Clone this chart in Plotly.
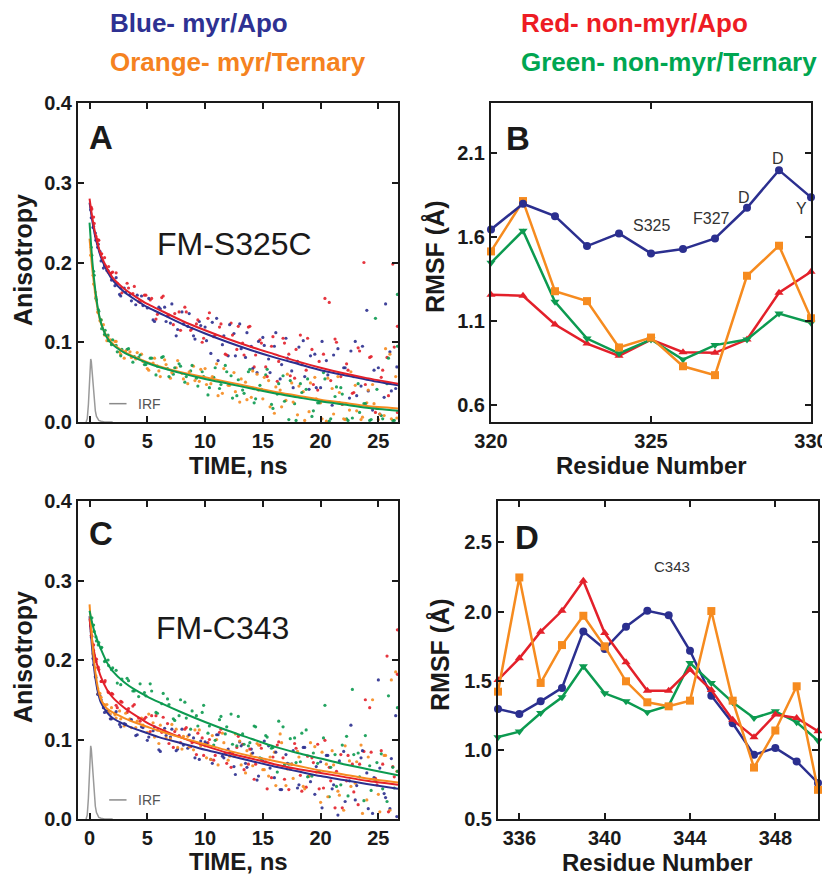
import plotly.graph_objects as go

# ---------------- data ----------------
# scatter times (ns)
t_set1 = [0.1, 0.3, 0.5, 0.7, 0.9, 1.2, 1.5, 1.8, 2.2, 2.6, 3.0, 3.5, 4.0, 4.5, 5.0, 5.5, 6.0, 6.5, 7.0, 7.5,
          8.0, 8.5, 9.0, 9.5, 10.0, 10.5, 11.0, 11.5, 12.0, 12.5, 13.0, 13.5, 14.0, 14.5, 15.0, 15.5, 16.0, 16.5,
          17.0, 17.5, 18.0, 18.5, 19.0, 19.5, 20.0, 20.5, 21.0, 21.5, 22.0, 22.5, 23.0, 23.5, 24.0, 24.5, 25.0,
          25.5, 26.0, 26.5]
t_set2 = [0.2, 0.4, 0.6, 0.8, 1.05, 1.35, 1.65, 2.0, 2.4, 2.8, 3.25, 3.75, 4.25, 4.75, 5.25, 5.75, 6.25, 6.75,
          7.25, 7.75, 8.25, 8.75, 9.25, 9.75, 10.25, 10.75, 11.25, 11.75, 12.25, 12.75, 13.25, 13.75, 14.25, 14.75,
          15.25, 15.75, 16.25, 16.75, 17.25, 17.75, 18.25, 18.75, 19.25, 19.75, 20.25, 20.75, 21.25, 21.75, 22.25,
          22.75, 23.25, 23.75, 24.25, 24.75, 25.25, 25.75, 26.25, 26.65]
t_set3 = [0.15, 0.35, 0.55, 0.75, 1.0, 1.3, 1.6, 1.9, 2.3, 2.7, 3.125, 3.625, 4.125, 4.625, 5.125, 5.625, 6.125,
          6.625, 7.125, 7.625, 8.125, 8.625, 9.125, 9.625, 10.125, 10.625, 11.125, 11.625, 12.125, 12.625, 13.125,
          13.625, 14.125, 14.625, 15.125, 15.625, 16.125, 16.625, 17.125, 17.625, 18.125, 18.625, 19.125, 19.625,
          20.125, 20.625, 21.125, 21.625, 22.125, 22.625, 23.125, 23.625, 24.125, 24.625, 25.125, 25.625, 26.125,
          26.6]
t_set4 = [0.15, 0.35, 0.55, 0.75, 1.0, 1.3, 1.6, 1.9, 2.3, 2.7, 3.375, 3.875, 4.375, 4.875, 5.375, 5.875, 6.375,
          6.875, 7.375, 7.875, 8.375, 8.875, 9.375, 9.875, 10.375, 10.875, 11.375, 11.875, 12.375, 12.875, 13.375,
          13.875, 14.375, 14.875, 15.375, 15.875, 16.375, 16.875, 17.375, 17.875, 18.375, 18.875, 19.375, 19.875,
          20.375, 20.875, 21.375, 21.875, 22.375, 22.875, 23.375, 23.875, 24.375, 24.875, 25.375, 25.875, 26.375,
          26.65]

# Panel A (FM-S325C) anisotropy data
A_blue = [0.266, 0.244, 0.237, 0.219, 0.214, 0.193, 0.190, 0.186, 0.171, 0.160, 0.168, 0.160, 0.147, 0.158, 0.143,
          0.128, 0.144, 0.144, 0.124, 0.108, 0.138, 0.120, 0.108, 0.126, 0.119, 0.086, 0.130, 0.097, 0.083, 0.111,
          0.123, 0.081, 0.095, 0.062, 0.106, 0.079, 0.095, 0.054, 0.105, 0.064, 0.076, 0.102, 0.041, 0.085, 0.043,
          0.077, 0.021, 0.092, 0.068, 0.030, 0.101, 0.045, 0.140, 0.015, 0.068, 0.031, 0.088, 0.042]
A_blue_b = [0.256, 0.245, 0.228, 0.223, 0.202, 0.196, 0.190, 0.178, 0.181, 0.158, 0.163, 0.152, 0.159, 0.146, 0.155,
            0.126, 0.142, 0.126, 0.148, 0.116, 0.123, 0.136, 0.104, 0.121, 0.102, 0.125, 0.077, 0.108, 0.122, 0.083,
            0.092, 0.112, 0.067, 0.101, 0.096, 0.062, 0.112, 0.072, 0.080, 0.043, 0.094, 0.057, 0.083, 0.043, 0.101,
            0.059, 0.084, 0.024, 0.068, 0.089, 0.033, 0.095, 0.039, 0.065, 0.010, 0.148, 0.039, 0.069]
A_red = [0.267, 0.249, 0.230, 0.228, 0.211, 0.196, 0.195, 0.188, 0.174, 0.162, 0.174, 0.161, 0.151, 0.159, 0.153,
         0.129, 0.156, 0.133, 0.122, 0.138, 0.144, 0.115, 0.123, 0.100, 0.130, 0.107, 0.119, 0.085, 0.124, 0.091,
         0.099, 0.119, 0.069, 0.103, 0.069, 0.095, 0.051, 0.105, 0.085, 0.055, 0.109, 0.065, 0.091, 0.040, 0.085,
         0.150, 0.104, 0.057, 0.073, 0.036, 0.093, 0.200, 0.081, 0.012, 0.056, 0.081, 0.198, 0.012]
A_red_b = [0.269, 0.257, 0.233, 0.228, 0.211, 0.206, 0.188, 0.187, 0.187, 0.168, 0.168, 0.170, 0.150, 0.159, 0.155,
           0.135, 0.158, 0.134, 0.136, 0.115, 0.138, 0.117, 0.128, 0.105, 0.137, 0.109, 0.123, 0.084, 0.109, 0.120,
           0.084, 0.120, 0.084, 0.099, 0.057, 0.107, 0.076, 0.099, 0.058, 0.091, 0.072, 0.105, 0.047, 0.076, 0.155,
           0.052, 0.100, 0.022, 0.065, 0.037, 0.089, 0.047, 0.082, 0.017, 0.065, 0.033, 0.094, 0.120]
A_orange = [0.209, 0.184, 0.163, 0.138, 0.127, 0.122, 0.102, 0.103, 0.101, 0.088, 0.080, 0.088, 0.079, 0.085, 0.067,
            0.074, 0.064, 0.078, 0.055, 0.068, 0.061, 0.048, 0.070, 0.051, 0.067, 0.048, 0.073, 0.036, 0.046, 0.062,
            0.025, 0.050, 0.031, 0.060, 0.029, 0.052, 0.011, 0.040, 0.027, 0.049, 0.009, 0.038, 0.013, 0.056, 0.024,
            0.001, 0.042, 0.057, 0.004, 0.015, 0.046, 0.003, 0.024, 0.047, 0.003, 0.008, 0.085, 0.057]
A_orange_b = [0.210, 0.173, 0.157, 0.137, 0.128, 0.109, 0.107, 0.098, 0.101, 0.085, 0.089, 0.081, 0.087, 0.076,
              0.065, 0.080, 0.057, 0.072, 0.062, 0.077, 0.054, 0.063, 0.052, 0.066, 0.047, 0.057, 0.033, 0.067,
              0.046, 0.038, 0.054, 0.028, 0.064, 0.040, 0.056, 0.019, 0.044, 0.019, 0.060, 0.025, 0.045, 0.002,
              0.049, 0.029, 0.004, 0.055, 0.010, 0.037, 0.003, 0.063, 0.014, 0.006, 0.040, 0.023, 0.010, 0.092,
              0.004, 0.005]
A_green = [0.209, 0.184, 0.153, 0.139, 0.117, 0.115, 0.102, 0.103, 0.088, 0.091, 0.091, 0.075, 0.081, 0.072, 0.080,
           0.059, 0.081, 0.067, 0.060, 0.073, 0.050, 0.064, 0.055, 0.063, 0.034, 0.056, 0.042, 0.071, 0.058, 0.033,
           0.040, 0.063, 0.024, 0.046, 0.059, 0.022, 0.035, 0.058, 0.003, 0.023, 0.048, 0.041, 0.007, 0.024, 0.062,
           0.001, 0.032, 0.043, 0.004, 0.005, 0.048, 0.023, 0.002, 0.130, 0.008, 0.048, 0.002, 0.160]
A_green_b = [0.219, 0.189, 0.155, 0.141, 0.128, 0.110, 0.109, 0.097, 0.096, 0.083, 0.092, 0.082, 0.084, 0.072, 0.080,
             0.070, 0.082, 0.057, 0.068, 0.070, 0.057, 0.071, 0.045, 0.057, 0.043, 0.068, 0.047, 0.063, 0.030, 0.053,
             0.036, 0.066, 0.029, 0.041, 0.066, 0.017, 0.048, 0.026, 0.052, 0.002, 0.037, 0.054, 0.014, 0.024, 0.054,
             0.004, 0.044, 0.035, 0.002, 0.057, 0.012, 0.023, 0.003, 0.041, 0.004, 0.080, 0.002, 0.095]

# Panel C (FM-C343) anisotropy data
C_blue = [0.243, 0.202, 0.179, 0.157, 0.155, 0.140, 0.136, 0.126, 0.133, 0.119, 0.120, 0.125, 0.105, 0.116, 0.099,
          0.111, 0.087, 0.114, 0.103, 0.086, 0.113, 0.089, 0.102, 0.075, 0.097, 0.075, 0.106, 0.079, 0.088, 0.066,
          0.097, 0.070, 0.088, 0.049, 0.073, 0.092, 0.052, 0.037, 0.081, 0.069, 0.039, 0.090, 0.054, 0.031, 0.072,
          0.080, 0.038, 0.005, 0.085, 0.048, 0.024, 0.077, 0.058, 0.007, 0.175, 0.032, 0.013, 0.130]
C_blue_b = [0.229, 0.194, 0.178, 0.157, 0.150, 0.134, 0.135, 0.126, 0.135, 0.116, 0.119, 0.125, 0.106, 0.115, 0.103,
            0.116, 0.085, 0.105, 0.113, 0.088, 0.093, 0.106, 0.077, 0.098, 0.095, 0.070, 0.106, 0.077, 0.083, 0.056,
            0.092, 0.065, 0.083, 0.054, 0.098, 0.064, 0.084, 0.037, 0.070, 0.086, 0.043, 0.090, 0.047, 0.066, 0.014,
            0.080, 0.043, 0.073, 0.022, 0.118, 0.042, 0.086, 0.013, 0.052, 0.064, 0.027, 0.076, 0.003]
C_orange = [0.249, 0.208, 0.190, 0.164, 0.158, 0.144, 0.144, 0.132, 0.131, 0.136, 0.117, 0.126, 0.115, 0.127, 0.109,
            0.121, 0.095, 0.111, 0.101, 0.113, 0.088, 0.104, 0.087, 0.112, 0.092, 0.075, 0.100, 0.108, 0.074, 0.079,
            0.098, 0.058, 0.082, 0.095, 0.062, 0.054, 0.084, 0.107, 0.042, 0.069, 0.085, 0.041, 0.054, 0.091, 0.021,
            0.069, 0.086, 0.035, 0.011, 0.073, 0.045, 0.093, 0.024, 0.150, 0.031, 0.080, 0.011, 0.185]
C_orange_b = [0.236, 0.212, 0.180, 0.158, 0.153, 0.144, 0.134, 0.140, 0.127, 0.126, 0.133, 0.115, 0.123, 0.118,
              0.132, 0.103, 0.118, 0.102, 0.119, 0.090, 0.104, 0.091, 0.112, 0.092, 0.077, 0.105, 0.068, 0.096,
              0.079, 0.107, 0.068, 0.086, 0.067, 0.093, 0.062, 0.078, 0.042, 0.096, 0.063, 0.051, 0.078, 0.038,
              0.096, 0.059, 0.084, 0.028, 0.068, 0.030, 0.092, 0.041, 0.072, 0.007, 0.078, 0.050, 0.009, 0.080,
              0.175, 0.060]
C_red = [0.230, 0.206, 0.201, 0.188, 0.173, 0.174, 0.159, 0.157, 0.140, 0.147, 0.134, 0.142, 0.127, 0.126, 0.110,
         0.130, 0.109, 0.120, 0.090, 0.105, 0.113, 0.091, 0.081, 0.102, 0.096, 0.074, 0.109, 0.082, 0.065, 0.090,
         0.094, 0.069, 0.050, 0.093, 0.072, 0.052, 0.093, 0.077, 0.037, 0.095, 0.055, 0.040, 0.077, 0.094, 0.039,
         0.065, 0.014, 0.081, 0.048, 0.069, 0.018, 0.085, 0.140, 0.051, 0.086, 0.205, 0.066, 0.238]
C_red_b = [0.231, 0.219, 0.198, 0.191, 0.173, 0.172, 0.160, 0.158, 0.143, 0.148, 0.139, 0.144, 0.123, 0.128, 0.130,
           0.112, 0.128, 0.095, 0.110, 0.096, 0.115, 0.096, 0.108, 0.080, 0.100, 0.080, 0.113, 0.070, 0.083, 0.104,
           0.062, 0.088, 0.069, 0.089, 0.038, 0.078, 0.097, 0.050, 0.063, 0.089, 0.035, 0.079, 0.071, 0.038, 0.099,
           0.048, 0.060, 0.014, 0.080, 0.034, 0.069, 0.150, 0.084, 0.043, 0.069, 0.009, 0.053, 0.182]
C_green = [0.253, 0.236, 0.224, 0.222, 0.216, 0.199, 0.193, 0.190, 0.171, 0.176, 0.177, 0.161, 0.154, 0.159, 0.170,
           0.134, 0.145, 0.151, 0.126, 0.130, 0.147, 0.113, 0.130, 0.134, 0.108, 0.093, 0.125, 0.107, 0.132, 0.092,
           0.107, 0.092, 0.117, 0.077, 0.105, 0.089, 0.059, 0.116, 0.069, 0.102, 0.072, 0.112, 0.054, 0.070, 0.102,
           0.028, 0.081, 0.043, 0.104, 0.163, 0.083, 0.023, 0.067, 0.048, 0.082, 0.022, 0.065, 0.140]
C_green_b = [0.247, 0.244, 0.229, 0.219, 0.215, 0.198, 0.200, 0.188, 0.187, 0.169, 0.174, 0.161, 0.170, 0.155, 0.161,
             0.133, 0.158, 0.144, 0.124, 0.150, 0.127, 0.136, 0.117, 0.143, 0.117, 0.099, 0.129, 0.116, 0.094, 0.129,
             0.094, 0.096, 0.116, 0.076, 0.103, 0.090, 0.123, 0.068, 0.101, 0.071, 0.108, 0.053, 0.083, 0.060, 0.143,
             0.065, 0.041, 0.093, 0.029, 0.081, 0.053, 0.105, 0.036, 0.071, 0.038, 0.155, 0.039, 0.060]

# fitted decay curves
t_fit = [0, 0.25, 0.5, 0.75, 1, 1.5, 2, 3, 4, 5, 6, 8, 10, 12, 14, 16, 18, 20, 22, 24, 26.7]
A_blue_fit = [0.275, 0.251, 0.232, 0.218, 0.206, 0.190, 0.178, 0.163, 0.153, 0.144, 0.137, 0.123, 0.111, 0.100,
              0.090, 0.081, 0.073, 0.065, 0.059, 0.053, 0.046]
A_red_fit = [0.280, 0.255, 0.236, 0.221, 0.209, 0.193, 0.181, 0.167, 0.157, 0.148, 0.141, 0.127, 0.115, 0.104,
             0.094, 0.085, 0.076, 0.068, 0.061, 0.055, 0.048]
A_orange_fit = [0.230, 0.190, 0.160, 0.138, 0.123, 0.107, 0.098, 0.088, 0.081, 0.075, 0.070, 0.062, 0.056, 0.050,
                0.044, 0.038, 0.033, 0.028, 0.024, 0.020, 0.017]
A_green_fit = [0.250, 0.200, 0.165, 0.140, 0.124, 0.106, 0.097, 0.087, 0.080, 0.074, 0.069, 0.061, 0.054, 0.048,
               0.042, 0.036, 0.031, 0.026, 0.022, 0.018, 0.014]
C_blue_fit = [0.255, 0.210, 0.178, 0.158, 0.146, 0.134, 0.127, 0.119, 0.113, 0.108, 0.103, 0.095, 0.087, 0.080,
              0.073, 0.066, 0.060, 0.054, 0.049, 0.044, 0.038]
C_red_fit = [0.252, 0.222, 0.203, 0.189, 0.178, 0.163, 0.153, 0.140, 0.130, 0.121, 0.114, 0.102, 0.092, 0.083,
             0.076, 0.069, 0.063, 0.058, 0.053, 0.048, 0.043]
C_orange_fit = [0.270, 0.220, 0.185, 0.163, 0.150, 0.139, 0.134, 0.127, 0.121, 0.116, 0.111, 0.102, 0.094, 0.086,
                0.079, 0.073, 0.067, 0.061, 0.056, 0.051, 0.046]
C_green_fit = [0.262, 0.245, 0.232, 0.222, 0.213, 0.197, 0.186, 0.172, 0.162, 0.154, 0.147, 0.134, 0.122, 0.111,
               0.101, 0.091, 0.083, 0.076, 0.069, 0.063, 0.055]

# instrument response function
irf_t = [-0.3, -0.2, -0.1, 0.0, 0.05, 0.1, 0.15, 0.2, 0.3, 0.4, 0.5, 0.6, 0.8, 1.0, 1.3, 1.6, 2.0]
irf_A = [0.000, 0.004, 0.022, 0.058, 0.073, 0.079, 0.076, 0.067, 0.045, 0.027, 0.014, 0.007, 0.002, 0.001, 0.0, 0.0, 0.0]
irf_C = [0.000, 0.005, 0.026, 0.068, 0.085, 0.092, 0.088, 0.078, 0.052, 0.031, 0.016, 0.008, 0.002, 0.001, 0.0, 0.0, 0.0]
irf_key_t = [1.7, 3.2]
irf_key_A = [0.023, 0.023]
irf_key_C = [0.024, 0.024]

# Panel B RMSF
res_B = [320, 321, 322, 323, 324, 325, 326, 327, 328, 329, 330]
B_blue = [1.647, 1.800, 1.726, 1.548, 1.623, 1.504, 1.530, 1.593, 1.776, 2.000, 1.838]
B_red = [1.258, 1.252, 1.081, 0.967, 0.894, 0.991, 0.916, 0.912, 0.991, 1.270, 1.395]
B_orange = [1.516, 1.816, 1.279, 1.220, 0.944, 1.003, 0.832, 0.779, 1.371, 1.550, 1.118]
B_green = [1.448, 1.639, 1.216, 0.997, 0.908, 0.991, 0.872, 0.958, 0.991, 1.146, 1.091]

# Panel D RMSF
res_D = [335, 336, 337, 338, 339, 340, 341, 342, 343, 344, 345, 346, 347, 348, 349, 350]
D_blue = [1.296, 1.260, 1.351, 1.448, 1.857, 1.729, 1.891, 2.006, 1.973, 1.717, 1.392, 1.193, 0.964, 1.014, 0.916, 0.761]
D_orange = [1.421, 2.247, 1.484, 1.758, 1.970, 1.749, 1.496, 1.344, 1.315, 1.356, 2.004, 1.356, 0.872, 1.140, 1.460, 0.711]
D_red = [1.506, 1.662, 1.855, 2.006, 2.223, 1.845, 1.633, 1.428, 1.428, 1.580, 1.433, 1.217, 1.092, 1.255, 1.231, 1.135]
D_green = [1.092, 1.132, 1.267, 1.380, 1.604, 1.409, 1.351, 1.272, 1.320, 1.628, 1.484, 1.344, 1.231, 1.279, 1.200, 1.067]

# ---------------- style ----------------
PAGE_W, PAGE_H, BODY = 830, 875, 8          # browser window and default page margin
W, H = PAGE_W - BODY, PAGE_H - BODY
BLUE, RED, ORANGE, GREEN = "#2B2F8F", "#E3202A", "#F68B1F", "#0C9A50"
BLUE_T, RED_T, ORANGE_T, GREEN_T = "#2E3192", "#ED1C24", "#F58220", "#00A651"
INK = "#1a1a1a"
FONT = "Liberation Sans"


def fx(p):
    return (p - BODY) / W


def fy(p):
    return 1 - (p - BODY) / H


fig = go.Figure()


def aniso(xa, ya, dots, fits, irf, irf_key):
    for t, vals, col in dots:
        fig.add_trace(go.Scatter(x=t, y=vals, mode="markers", xaxis=xa, yaxis=ya,
                                 marker=dict(size=3.2, color=col, opacity=0.9), showlegend=False))
    for vals, col in fits:
        fig.add_trace(go.Scatter(x=t_fit, y=vals, mode="lines", xaxis=xa, yaxis=ya,
                                 line=dict(color=col, width=2, shape="spline", smoothing=0.7), showlegend=False))
    fig.add_trace(go.Scatter(x=irf_t, y=irf, mode="lines", xaxis=xa, yaxis=ya,
                             line=dict(color="#9a9a9a", width=1.5), showlegend=False))
    fig.add_trace(go.Scatter(x=irf_key_t, y=irf_key, mode="lines", xaxis=xa, yaxis=ya,
                             line=dict(color="#8a8a8a", width=1.5), showlegend=False))


aniso("x", "y",
      [(t_set1, A_blue, BLUE), (t_set2, A_red, RED), (t_set1, A_orange, ORANGE), (t_set2, A_green, GREEN),
       (t_set3, A_blue_b, BLUE), (t_set4, A_red_b, RED), (t_set3, A_orange_b, ORANGE), (t_set4, A_green_b, GREEN)],
      [(A_orange_fit, ORANGE), (A_green_fit, GREEN), (A_blue_fit, BLUE), (A_red_fit, RED)], irf_A, irf_key_A)
aniso("x3", "y3",
      [(t_set1, C_blue, BLUE), (t_set2, C_red, RED), (t_set1, C_orange, ORANGE), (t_set2, C_green, GREEN),
       (t_set3, C_blue_b, BLUE), (t_set4, C_red_b, RED), (t_set3, C_orange_b, ORANGE), (t_set4, C_green_b, GREEN)],
      [(C_blue_fit, BLUE), (C_red_fit, RED), (C_orange_fit, ORANGE), (C_green_fit, GREEN)], irf_C, irf_key_C)


def rmsf(xa, ya, res, series):
    for vals, col, sym in series:
        fig.add_trace(go.Scatter(x=res, y=vals, mode="lines+markers", xaxis=xa, yaxis=ya, cliponaxis=False,
                                 line=dict(color=col, width=2.5),
                                 marker=dict(symbol=sym, size=8, color=col), showlegend=False))


rmsf("x2", "y2", res_B, [(B_red, RED, "triangle-up"), (B_green, GREEN, "triangle-down"),
                         (B_orange, ORANGE, "square"), (B_blue, BLUE, "circle")])
rmsf("x4", "y4", res_D, [(D_blue, BLUE, "circle"), (D_green, GREEN, "triangle-down"),
                         (D_red, RED, "triangle-up"), (D_orange, ORANGE, "square")])


def axis(domain, rng, **kw):
    d = dict(domain=domain, range=rng, showline=True, linecolor=INK, linewidth=2, mirror="ticks",
             ticks="inside", ticklen=6, tickwidth=1.5, tickcolor=INK, showgrid=False, zeroline=False,
             automargin=False,
             tickfont=dict(family=FONT, size=20, color=INK, weight="bold"))
    d.update(kw)
    return d


xA = [fx(78), fx(398)]
xB = [fx(491), fx(811)]
xD = [fx(498), fx(818)]
yTop = [fy(422), fy(103)]
yBot = [fy(819), fy(501)]

fig.update_layout(
    width=W, height=H, margin=dict(l=0, r=0, t=0, b=0, autoexpand=False),
    paper_bgcolor="white", plot_bgcolor="white", showlegend=False,
    xaxis=axis(xA, [-1, 26.7], anchor="y", tick0=0, dtick=5),
    yaxis=axis(yTop, [0, 0.4], anchor="x", tick0=0, dtick=0.1, tickformat=".1f"),
    xaxis2=axis(xB, [320, 330], anchor="y2", tick0=320, dtick=5),
    yaxis2=axis(yTop, [0.5, 2.4], anchor="x2", tick0=0.6, dtick=0.5, tickformat=".1f"),
    xaxis3=axis(xA, [-1, 26.7], anchor="y3", tick0=0, dtick=5),
    yaxis3=axis(yBot, [0, 0.4], anchor="x3", tick0=0, dtick=0.1, tickformat=".1f"),
    xaxis4=axis(xD, [335, 350], anchor="y4", tick0=336, dtick=4),
    yaxis4=axis(yBot, [0.5, 2.8], anchor="x4", tick0=1.0, dtick=0.5, tickformat=".1f"),
)

ann = []


def txt(x, y, s, size, color=INK, bold=True, xanchor="center", angle=0, xref="paper", yref="paper"):
    ann.append(dict(x=x, y=y, xref=xref, yref=yref, text=s, showarrow=False, xanchor=xanchor, yanchor="middle",
                    textangle=angle,
                    font=dict(family=FONT, size=size, color=color, weight="bold" if bold else "normal")))


# header legend text
txt(fx(108), fy(23), "Blue- myr/Apo", 26, BLUE_T, xanchor="left")
txt(fx(108), fy(62), "Orange- myr/Ternary", 26, ORANGE_T, xanchor="left")
txt(fx(519), fy(23), "Red- non-myr/Apo", 26, RED_T, xanchor="left")
txt(fx(519), fy(62), "Green- non-myr/Ternary", 26, GREEN_T, xanchor="left")

# axis titles
txt(fx(238), fy(466), "TIME, ns", 24)
txt(fx(238), fy(861), "TIME, ns", 24)
txt(fx(651), fy(466), "Residue Number", 24)
txt(fx(657), fy(862), "Residue Number", 24)
txt(fx(23), fy(260), "Anisotropy", 25, angle=-90)
txt(fx(23), fy(657), "Anisotropy", 25, angle=-90)
txt(fx(435), fy(257), "RMSF (Å)", 25, angle=-90)
txt(fx(440), fy(655), "RMSF (Å)", 25, angle=-90)

# panel letters
txt(fx(87), fy(137), "A", 33, xanchor="left")
txt(fx(504), fy(138), "B", 33, xanchor="left")
txt(fx(87), fy(533), "C", 33, xanchor="left")
txt(fx(513), fy(537), "D", 33, xanchor="left")

# sample names
txt(fx(234), fy(244), "FM-S325C", 32, bold=False)
txt(fx(222), fy(628), "FM-C343", 32, bold=False)

# IRF keys
txt(4.0, 0.023, "IRF", 14, "#555555", bold=False, xanchor="left", xref="x", yref="y")
txt(4.0, 0.024, "IRF", 14, "#555555", bold=False, xanchor="left", xref="x3", yref="y3")

# residue labels
for x, y, s in [(325.03, 1.673, "S325"), (326.88, 1.715, "F327"), (327.9, 1.84, "D"),
                (328.97, 2.067, "D"), (329.69, 1.774, "Y")]:
    txt(x, y, s, 16, "#333333", bold=False, xref="x2", yref="y2")
txt(343.16, 2.328, "C343", 15, "#333333", bold=False, xref="x4", yref="y4")

fig.update_layout(annotations=ann)
fig.write_html("out.html")
